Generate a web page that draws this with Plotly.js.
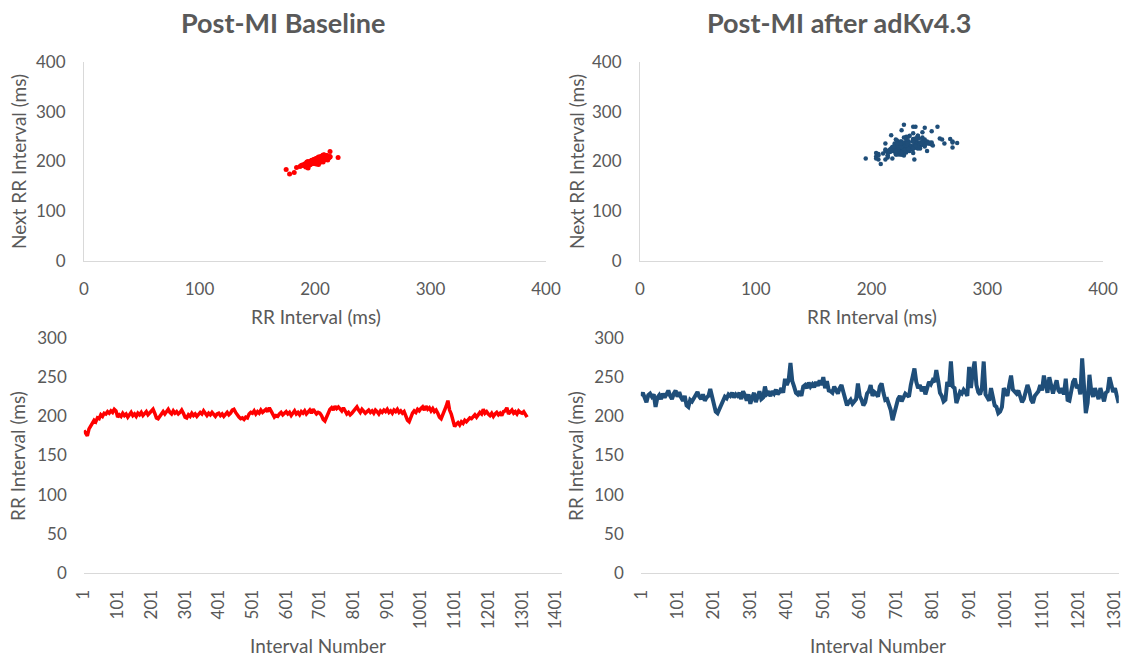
<!DOCTYPE html>
<html>
<head>
<meta charset="utf-8">
<script src="https://cdn.plot.ly/plotly-3.0.1.min.js"></script>
<style>
  html, body { margin: 0; padding: 0; background: #ffffff; }
  #chart { width: 1129px; height: 656px; }
</style>
</head>
<body>
<div id="chart"></div>
<script>
// RR intervals (ms), read every 5th interval (interval numbers 1, 6, 11, ...)
const sampleStep = 5;

const baselineRR = [
  182, 178, 175, 184,
  188, 192, 195, 193, 198, 197,
  202, 200, 204, 203, 206, 204, 207, 205, 209, 207,
  199, 202, 200, 204, 201, 203, 199, 202, 205, 201,
  203, 200, 204, 202, 205, 201, 203, 206, 202, 204,
  207, 209, 204, 198, 197, 200, 204, 206, 203, 207,
  209, 205, 203, 207, 204, 206, 203, 205, 208, 204,
  199, 198, 202, 200, 204, 201, 203, 200, 202, 205,
  203, 207, 204, 201, 204, 202, 205, 203, 200, 203,
  204, 201, 203, 200, 202, 205, 202, 204, 208, 209,
  205, 201, 199, 197, 198, 196, 199, 198, 203, 205,
  204, 207, 203, 206, 204, 208, 205, 207, 209, 206,
  211, 207, 203, 199, 201, 200, 203, 205, 202, 204,
  206, 203, 205, 201, 204, 207, 203, 205, 202, 206,
  204, 207, 203, 205, 208, 204, 209, 206, 203, 205,
  204, 201, 196, 194, 200, 205, 209, 211, 208, 213,
  210, 212, 209, 207, 211, 206, 203, 205, 202, 204,
  207, 209, 212, 208, 205, 209, 207, 204, 206, 208,
  205, 207, 204, 208, 206, 203, 207, 205, 208, 206,
  209, 205, 207, 204, 208, 206, 209, 205, 207, 204,
  206, 201, 195, 193, 199, 204, 207, 205, 209, 207,
  210, 212, 208, 213, 209, 211, 207, 210, 206, 208,
  204, 199, 197, 202, 207, 213, 220, 208, 203, 194,
  187, 190, 192, 189, 193, 191, 195, 193, 196, 198,
  197, 200, 202, 199, 203, 205, 203, 209, 204, 206,
  203, 201, 204, 200, 203, 205, 202, 204, 201, 206,
  207, 211, 203, 205, 208, 204, 206, 203, 207, 205,
  204, 206, 202, 199
];

const adKvRR = [
  226, 230, 224, 218, 227, 229, 225, 228, 212, 224,
  227, 222, 229, 224, 228, 233, 226, 222, 229, 233,
  225, 231, 224, 220, 226, 214, 212, 221, 219, 223,
  226, 231, 225, 222, 228, 220, 224, 226, 235, 225,
  218, 206, 204, 210, 216, 220, 225, 223, 228, 226,
  230, 224, 228, 226, 230, 222, 232, 227, 220, 228,
  216, 224, 230, 218, 226, 232, 222, 224, 238, 228,
  230, 226, 232, 229, 234, 228, 231, 236, 230, 248,
  240, 246, 268, 245, 238, 230, 228, 232, 226, 238,
  240, 236, 243, 238, 241, 237, 244, 239, 246, 240,
  250, 236, 245, 233, 232, 230, 238, 234, 229, 236,
  240, 231, 224, 214, 218, 221, 216, 219, 222, 242,
  226, 221, 214, 218, 229, 232, 240, 226, 231, 229,
  225, 238, 242, 230, 221, 222, 214, 208, 195, 206,
  215, 222, 226, 219, 224, 229, 227, 225, 240, 252,
  261, 244, 236, 240, 232, 238, 228, 236, 244, 241,
  246, 244, 259, 246, 230, 226, 219, 221, 244, 238,
  270, 238, 236, 217, 225, 231, 229, 234, 231, 226,
  263, 236, 257, 270, 240, 231, 228, 236, 270, 228,
  224, 220, 236, 226, 214, 212, 204, 206, 212, 236,
  230, 226, 240, 252, 234, 231, 229, 233, 226, 218,
  222, 231, 240, 233, 221, 217, 226, 229, 232, 240,
  233, 252, 238, 230, 250, 236, 229, 238, 246, 233,
  230, 236, 228, 248, 221, 220, 230, 244, 248, 236,
  240, 228, 274, 237, 204, 217, 253, 232, 225, 236,
  228, 222, 236, 226, 219, 230, 232, 250, 238, 231,
  236, 226, 217
];

const panelTitles = ["Post-MI Baseline", "Post-MI after adKv4.3"];
const scatterTicks = [0, 100, 200, 300, 400];
const lineYTicks = [0, 50, 100, 150, 200, 250, 300];
const baselineXTickLabels = ["1","101","201","301","401","501","601","701","801","901","1001","1101","1201","1301","1401"];
const adKvXTickLabels = ["1","101","201","301","401","501","601","701","801","901","1001","1101","1201","1301"];

const redColor = "#FF0000";
const blueColor = "#1F4E79";
const textColor = "#595959";
const axisColor = "#D9D9D9";
const fontFamily = "Lato, 'Open Sans', sans-serif";

function intervalNumbers(arr) { return arr.map((_, i) => 1 + i * sampleStep); }

const traces = [
  { type: "scatter", mode: "markers", x: baselineRR.slice(0, -1), y: baselineRR.slice(1),
    xaxis: "x", yaxis: "y", marker: { color: redColor, size: 5 }, hoverinfo: "x+y" },
  { type: "scatter", mode: "markers", x: adKvRR.slice(0, -1), y: adKvRR.slice(1),
    xaxis: "x2", yaxis: "y2", marker: { color: blueColor, size: 4.5 }, hoverinfo: "x+y" },
  { type: "scatter", mode: "lines", x: intervalNumbers(baselineRR), y: baselineRR,
    xaxis: "x3", yaxis: "y3", line: { color: redColor, width: 3.5 } },
  { type: "scatter", mode: "lines", x: intervalNumbers(adKvRR), y: adKvRR,
    xaxis: "x4", yaxis: "y4", line: { color: blueColor, width: 4 } }
];

const W = 1129, H = 656;
const px = v => v / W;
const py = v => 1 - v / H;

const tickFont = { family: fontFamily, size: 17, color: textColor };

function scatterX(domain) {
  return { domain, range: [0, 400], tickvals: scatterTicks, ticks: "", showgrid: false, zeroline: false,
    showline: true, linecolor: axisColor, linewidth: 1, tickfont: tickFont, ticklabelstandoff: 13, fixedrange: true };
}
function scatterY(domain, anchor) {
  return { domain, anchor, range: [0, 400], tickvals: scatterTicks, ticks: "", showgrid: false, zeroline: false,
    showline: true, linecolor: axisColor, linewidth: 1, tickfont: tickFont, ticklabelstandoff: 14, fixedrange: true };
}
function lineX(domain, range, labels, anchor) {
  return { domain, anchor, range, tickmode: "array", tickvals: labels.map(Number), ticktext: labels, tickangle: -90,
    ticks: "", showgrid: false, zeroline: false, showline: true, linecolor: axisColor, linewidth: 1,
    tickfont: tickFont, ticklabelstandoff: 9, fixedrange: true };
}
function lineY(domain, anchor) {
  return { domain, anchor, range: [0, 300], tickvals: lineYTicks, ticks: "", showgrid: false, zeroline: false,
    showline: false, tickfont: tickFont, ticklabelstandoff: 16, fixedrange: true };
}

const topY = [py(261), py(62)];
const botY = [py(573), py(338)];

const layout = {
  width: W, height: H,
  margin: { l: 0, r: 0, t: 0, b: 0 },
  paper_bgcolor: "#ffffff", plot_bgcolor: "#ffffff",
  showlegend: false,
  font: { family: fontFamily, color: textColor },
  xaxis: Object.assign(scatterX([px(84), px(546)]), { anchor: "y" }),
  yaxis: scatterY(topY, "x"),
  xaxis2: Object.assign(scatterX([px(640), px(1103)]), { anchor: "y2" }),
  yaxis2: scatterY(topY, "x2"),
  xaxis3: lineX([px(83.8), px(562.3)], [0.5, 1420.5], baselineXTickLabels, "y3"),
  yaxis3: lineY(botY, "x3"),
  xaxis4: lineX([px(640.8), px(1118.8)], [0.5, 1311.5], adKvXTickLabels, "y4"),
  yaxis4: lineY(botY, "x4"),
  annotations: []
};

function ann(text, x, y, size, opts) {
  return Object.assign({ text, x: px(x), y: py(y), xref: "paper", yref: "paper", showarrow: false,
    xanchor: "center", yanchor: "middle", font: { family: fontFamily, size, color: textColor } }, opts || {});
}

layout.annotations.push(
  ann("<b>" + panelTitles[0] + "</b>", 283, 23, 27),
  ann("<b>" + panelTitles[1] + "</b>", 839, 23, 27),
  ann("RR Interval (ms)", 316, 316, 19),
  ann("RR Interval (ms)", 872, 316, 19),
  ann("Next RR Interval (ms)", 18, 162, 19, { textangle: -90 }),
  ann("Next RR Interval (ms)", 576, 162, 19, { textangle: -90 }),
  ann("Interval Number", 318, 645, 19),
  ann("Interval Number", 878, 645, 19),
  ann("RR Interval (ms)", 18, 456, 19, { textangle: -90 }),
  ann("RR Interval (ms)", 576, 456, 19, { textangle: -90 })
);

Plotly.newPlot("chart", traces, layout, { displayModeBar: false, staticPlot: true });
</script>
</body>
</html>
